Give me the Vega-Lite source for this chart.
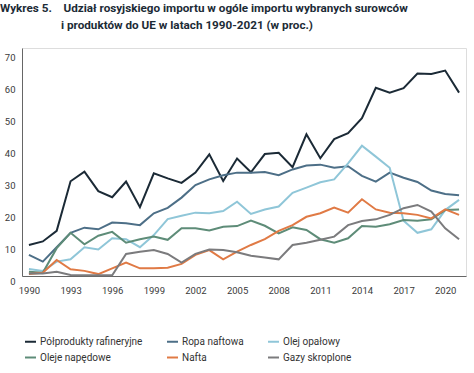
{
  "$schema": "https://vega.github.io/schema/vega-lite/v6.json",
  "width": 444,
  "height": 228,
  "autosize": {"type": "none"},
  "padding": {"left": 22, "top": 48, "right": 8, "bottom": 97},
  "background": "white",
  "title": {
    "text": ["Wykres 5.\u00a0\u00a0\u00a0\u00a0Udział rosyjskiego importu w ogóle importu wybranych surowców", "\u200b\u00a0\u00a0\u00a0\u00a0\u00a0\u00a0\u00a0\u00a0\u00a0\u00a0\u00a0\u00a0\u00a0\u00a0\u00a0\u00a0\u00a0\u00a0\u00a0\u00a0\u00a0i produktów do UE w latach 1990-2021 (w proc.)"],
    "anchor": "start",
    "frame": "group",
    "dx": -22,
    "baseline": "top",
    "offset": 0,
    "dy": -16,
    "font": "Roboto",
    "fontSize": 11.7,
    "fontWeight": "bold",
    "color": "#1c2b36",
    "lineHeight": 17
  },
  "datasets": {
    "rows": [
      {"year": 1990, "P": 9.7, "R": 6.6, "O": 2.2, "N": 1.3, "F": 0.6, "G": 0.8},
      {"year": 1991, "P": 10.8, "R": 4.5, "O": 1.6, "N": 1.0, "F": 1.0, "G": 0.8},
      {"year": 1992, "P": 14.1, "R": 9.0, "O": 4.5, "N": 8.7, "F": 5.0, "G": 1.3},
      {"year": 1993, "P": 29.6, "R": 13.5, "O": 5.2, "N": 13.5, "F": 2.1, "G": 0.3},
      {"year": 1994, "P": 32.6, "R": 15.1, "O": 9.0, "N": 9.9, "F": 1.6, "G": 0.2},
      {"year": 1995, "P": 26.5, "R": 14.6, "O": 8.3, "N": 12.6, "F": 0.6, "G": 0.2},
      {"year": 1996, "P": 24.6, "R": 16.7, "O": 11.8, "N": 13.8, "F": 2.4, "G": 0.2},
      {"year": 1997, "P": 29.5, "R": 16.5, "O": 11.5, "N": 10.4, "F": 4.2, "G": 6.9},
      {"year": 1998, "P": 21.5, "R": 15.9, "O": 9.0, "N": 11.5, "F": 2.4, "G": 7.6},
      {"year": 1999, "P": 32.1, "R": 19.6, "O": 12.8, "N": 12.3, "F": 2.4, "G": 8.1},
      {"year": 2000, "P": 30.5, "R": 21.3, "O": 17.8, "N": 11.3, "F": 2.6, "G": 6.9},
      {"year": 2001, "P": 29.1, "R": 24.5, "O": 18.8, "N": 14.9, "F": 3.8, "G": 4.2},
      {"year": 2002, "P": 32.3, "R": 28.4, "O": 19.8, "N": 14.9, "F": 6.6, "G": 6.9},
      {"year": 2003, "P": 38.0, "R": 30.2, "O": 19.6, "N": 14.2, "F": 8.1, "G": 8.3},
      {"year": 2004, "P": 29.7, "R": 31.5, "O": 20.3, "N": 15.4, "F": 5.2, "G": 8.1},
      {"year": 2005, "P": 36.7, "R": 32.3, "O": 23.2, "N": 15.6, "F": 7.6, "G": 7.4},
      {"year": 2006, "P": 32.4, "R": 32.3, "O": 19.4, "N": 17.3, "F": 9.7, "G": 6.3},
      {"year": 2007, "P": 38.1, "R": 32.5, "O": 20.8, "N": 15.7, "F": 11.5, "G": 5.8},
      {"year": 2008, "P": 38.5, "R": 31.5, "O": 21.7, "N": 13.3, "F": 14.1, "G": 5.2},
      {"year": 2009, "P": 34.0, "R": 33.3, "O": 26.0, "N": 15.2, "F": 15.9, "G": 9.7},
      {"year": 2010, "P": 44.3, "R": 34.5, "O": 27.6, "N": 14.4, "F": 18.5, "G": 10.4},
      {"year": 2011, "P": 36.8, "R": 34.8, "O": 29.3, "N": 11.5, "F": 19.6, "G": 11.3},
      {"year": 2012, "P": 42.8, "R": 33.8, "O": 30.2, "N": 10.4, "F": 21.4, "G": 12.3},
      {"year": 2013, "P": 44.6, "R": 34.3, "O": 35.2, "N": 11.8, "F": 19.8, "G": 15.9},
      {"year": 2014, "P": 49.3, "R": 31.3, "O": 40.7, "N": 15.6, "F": 24.0, "G": 17.2},
      {"year": 2015, "P": 58.8, "R": 29.5, "O": 37.3, "N": 15.4, "F": 20.8, "G": 17.7},
      {"year": 2016, "P": 57.3, "R": 32.3, "O": 33.8, "N": 16.2, "F": 19.8, "G": 19.1},
      {"year": 2017, "P": 58.7, "R": 30.7, "O": 17.3, "N": 17.5, "F": 19.6, "G": 21.2},
      {"year": 2018, "P": 63.3, "R": 29.4, "O": 13.5, "N": 17.3, "F": 19.1, "G": 22.2},
      {"year": 2019, "P": 63.1, "R": 26.7, "O": 14.6, "N": 17.7, "F": 18.0, "G": 20.1},
      {"year": 2020, "P": 64.2, "R": 25.6, "O": 20.6, "N": 20.6, "F": 20.8, "G": 14.9},
      {"year": 2021, "P": 57.3, "R": 25.2, "O": 23.8, "N": 20.8, "F": 19.1, "G": 11.5}
    ]
  },
  "data": {"name": "rows"},
  "transform": [
    {"fold": ["P", "R", "O", "N", "F", "G"], "as": ["key", "value"]},
    {"lookup": "key", "from": {"data": {"values": [
      {"key": "P", "series": "Półprodukty rafineryjne"},
      {"key": "R", "series": "Ropa naftowa"},
      {"key": "O", "series": "Olej opałowy"},
      {"key": "N", "series": "Oleje napędowe"},
      {"key": "F", "series": "Nafta"},
      {"key": "G", "series": "Gazy skroplone"}
    ]}, "key": "key", "fields": ["series"]}}
  ],
  "mark": {"type": "line", "strokeWidth": 2, "strokeJoin": "miter", "interpolate": "linear"},
  "encoding": {
    "x": {
      "field": "year", "type": "quantitative",
      "scale": {"domain": [1989.5, 2021.5], "nice": false, "zero": false},
      "axis": {
        "title": null, "values": [1990, 1993, 1996, 1999, 2002, 2005, 2008, 2011, 2014, 2017, 2020],
        "format": "d", "grid": false, "ticks": false, "tickSize": 0, "labelPadding": 9,
        "labelFont": "Roboto", "labelFontSize": 9.5, "labelColor": "#3a3a3a",
        "domainColor": "#666", "domainWidth": 1
      }
    },
    "y": {
      "field": "value", "type": "quantitative",
      "scale": {"domain": [0, 71.25], "nice": false},
      "axis": {
        "title": null, "values": [0, 10, 20, 30, 40, 50, 60, 70],
        "grid": false, "ticks": false, "tickSize": 0, "labelPadding": 7, "labelOffset": 5.5,
        "labelFont": "Roboto", "labelFontSize": 9.5, "labelColor": "#3a3a3a",
        "domainColor": "#666", "domainWidth": 1
      }
    },
    "color": {
      "field": "series", "type": "nominal",
      "scale": {
        "domain": ["Półprodukty rafineryjne", "Ropa naftowa", "Olej opałowy", "Oleje napędowe", "Nafta", "Gazy skroplone"],
        "range": ["#1b2a36", "#4d6f87", "#8fc6d8", "#5e8c78", "#e07a45", "#7b7b7d"]
      },
      "legend": {
        "title": null, "orient": "none", "legendX": 2, "legendY": 287,
        "columns": 3, "direction": "horizontal",
        "symbolType": "stroke", "symbolSize": 121, "symbolStrokeWidth": 2,
        "labelFont": "Roboto", "labelFontSize": 10, "labelColor": "#333",
        "labelOffset": 3, "columnPadding": 20, "rowPadding": 4
      }
    }
  }
}
